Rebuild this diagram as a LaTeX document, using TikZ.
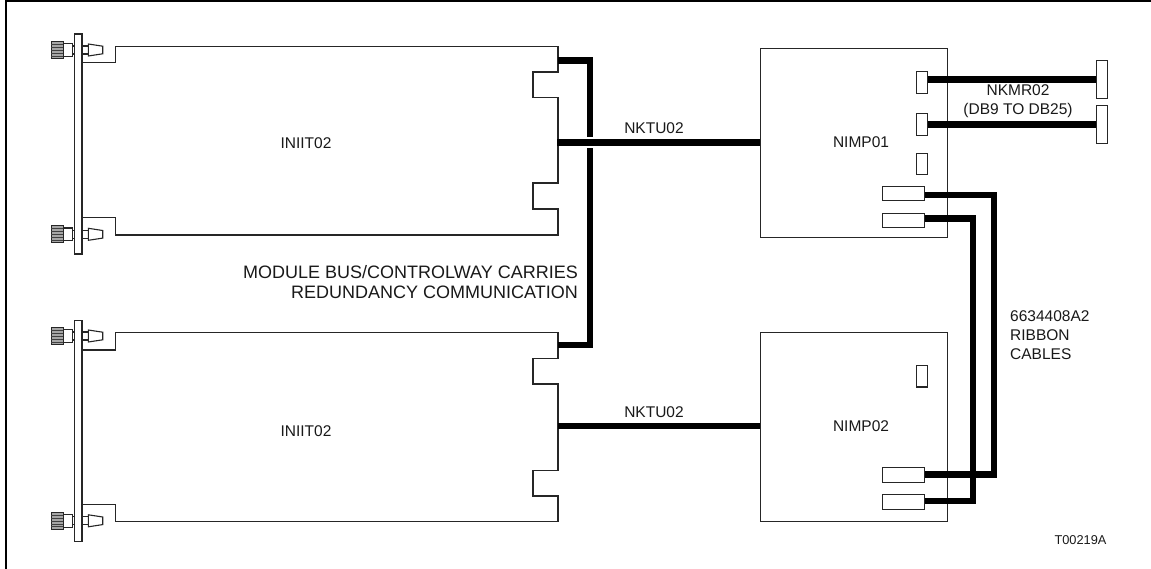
\documentclass[tikz,border=0pt]{standalone}
\usepackage{fontspec}
\setmainfont{Liberation Sans}
\tikzset{
  thin line/.style={draw=black!85,line width=1.1pt,line join=miter},
  cable/.style={draw=black,line width=6.4pt,line cap=butt,line join=miter},
  conn/.style={draw=black!85,fill=white,line width=1.1pt,inner sep=0pt,anchor=north west},
  lab/.style={font=\fontsize{15.5}{19.3}\selectfont,inner sep=0pt,text=black!90},
}
\begin{document}
\begin{tikzpicture}[x=1pt,y=-1pt]
\useasboundingbox (0,0) rectangle (1151,569);
% frame
\coordinate (fa) at (6,569); \coordinate (fb) at (6,0.8); \coordinate (fc) at (1151,0.8);
\draw[black,line width=1.8pt] (fa) -- (fb) -- (fc);
% plates
\draw[thin line] (74.5,34) rectangle (82,254);
\draw[thin line] (74.5,320.7) rectangle (82,541.7);
% bolts
\foreach \c in {50,234.3,336,520.8}{
  \begin{scope}[shift={(0,\c)}]
    \filldraw[thin line,fill=black!35] (51.3,-8.5) rectangle (63.3,8.5);
    \foreach \d in {-5.5,-2.5,0.5,3.5,6}{\draw[black!75,line width=0.9pt] (51.3,\d) -- (63.3,\d);}
    \draw[thin line] (63.3,-6.3) rectangle (72.7,6.3);
    \draw[thin line] (72.7,-4) rectangle (74.5,4);
    \draw[thin line] (82,-4) -- (88.3,-4) (82,4) -- (88.3,4);
    \draw[thin line] (88.3,-6) -- (102.7,-3.8) -- (102.7,3.8) -- (88.3,6) -- cycle;
  \end{scope}}
% cards
\draw[thin line] (82,62.7) -- (115.6,62.7) -- (115.6,46.3) -- (558,46.3) -- (558,72) -- (533,72) -- (533,97.7) -- (558,97.7) -- (558,183) -- (533,183) -- (533,209) -- (558,209) -- (558,235) -- (115.6,235) -- (115.6,217.7) -- (82,217.7);
\draw[thin line] (82,350) -- (115.6,350) -- (115.6,332.7) -- (558,332.7) -- (558,358.3) -- (533,358.3) -- (533,384) -- (558,384) -- (558,470.3) -- (533,470.3) -- (533,496) -- (558,496) -- (558,521.7) -- (115.6,521.7) -- (115.6,504.5) -- (82,504.5);
% NIMP boxes
\node[thin line,minimum width=187.3pt,minimum height=188.7pt,inner sep=0pt,anchor=north west] (nimpa) at (759.7,48) {};
\node[thin line,minimum width=187.3pt,minimum height=189.3pt,inner sep=0pt,anchor=north west] (nimpb) at (759.7,331.7) {};
% cable waypoints
\coordinate (ca1) at (558,60.7); \coordinate (ca2) at (590,60.7); \coordinate (ca3) at (590,136.7);
\coordinate (cb1) at (590,148.3); \coordinate (cb2) at (590,345); \coordinate (cb3) at (558,345);
\coordinate (k1) at (557,142.7); \coordinate (k2) at (558,426);
% thick cables
\draw[cable] (ca1) -- (ca2) -- (ca3);
\draw[cable] (cb1) -- (cb2) -- (cb3);
\draw[cable] (k1) -- (nimpa.west |- k1);
\draw[cable] (k2) -- (nimpb.west |- k2);
% connectors
\node[conn,minimum width=10.7pt,minimum height=21.4pt] (pa) at (916,71.3) {};
\node[conn,minimum width=10.7pt,minimum height=21.4pt] (pb) at (916,113.3) {};
\node[conn,minimum width=10.7pt,minimum height=21.4pt] (pc) at (916,152.7) {};
\node[conn,minimum width=10.7pt,minimum height=21.4pt] (pd) at (916,365) {};
\node[conn,minimum width=10.5pt,minimum height=37.4pt] (da) at (1096,60.3) {};
\node[conn,minimum width=10.5pt,minimum height=37.4pt] (db) at (1096,105.3) {};
\node[conn,minimum width=42pt,minimum height=14.3pt] (ra) at (882,185.7) {};
\node[conn,minimum width=42pt,minimum height=14.3pt] (rb) at (882,212.7) {};
\node[conn,minimum width=42pt,minimum height=14.7pt] (rc) at (882,467) {};
\node[conn,minimum width=42pt,minimum height=14.7pt] (rd) at (882,494) {};
\draw[cable] (pa.east |- da.west) -- (da.west);
\draw[cable] (pb.east |- db.west) -- (db.west);
\coordinate (ta) at (994,195); \coordinate (tb) at (994,474.5);
\coordinate (tc) at (973,218.7); \coordinate (td) at (973,501);
\draw[cable] (ra.east |- ta) -- (ta) -- (tb) -- (rc.east |- tb);
\draw[cable] (rb.east |- tc) -- (tc) -- (td) -- (rd.east |- td);
% labels
\node[lab] (t1) at (306,143) {INIIT02};
\node[lab] (t2) at (306,431) {INIIT02};
\node[lab] (t3) at (861,142) {NIMP01};
\node[lab] (t4) at (861,426) {NIMP02};
\node[lab] (t5) at (654,128) {NKTU02};
\node[lab] (t6) at (654,412) {NKTU02};
\node[lab,font=\fontsize{18}{20}\selectfont,align=right,anchor=east] (t7) at (578,282) {MODULE BUS/CONTROLWAY CARRIES\\REDUNDANCY COMMUNICATION};
\node[lab,align=center] (t8) at (1018,101) {NKMR02\\(DB9 TO DB25)};
\node[lab,align=left,anchor=west] (t9) at (1010,335) {6634408A2\\RIBBON\\CABLES};
\node[lab,font=\fontsize{12.8}{15}\selectfont] (t10) at (1080.5,540) {T00219A};
\end{tikzpicture}
\end{document}
